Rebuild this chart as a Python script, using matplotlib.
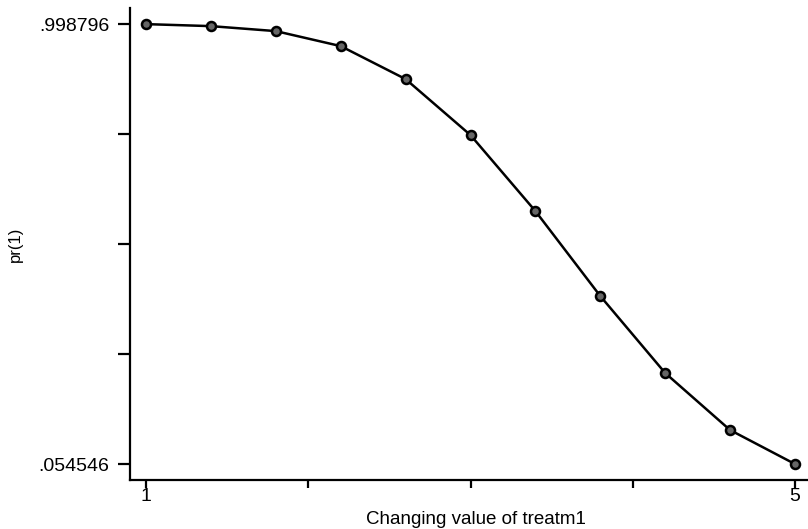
import numpy as np
import matplotlib.pyplot as plt

plt.rcParams['font.family'] = ['Liberation Sans', 'DejaVu Sans']

# values
treat = [1.0, 1.4, 1.8, 2.2, 2.6, 3.0, 3.4, 3.8, 4.2, 4.6, 5.0]
pr1 = [0.998796, 0.9945, 0.9838, 0.9516, 0.8808, 0.7606,
       0.5975, 0.4151, 0.2499, 0.1275, 0.054546]
ymin, ymax = 0.054546, 0.998796

fig = plt.figure(figsize=(8.08, 5.29), dpi=100)
ax = fig.add_axes([0.1609, 0.0926, 0.839, 0.892])

ax.plot(treat, pr1, color='black', lw=1.8, marker='o', ms=6.5,
        mfc='#666666', mec='black', mew=1.8)

ax.set_xlim(0.901, 5.08)
ax.set_ylim(0.0202, 1.0331)
ax.spines['top'].set_visible(False)
ax.spines['right'].set_visible(False)
ax.spines['left'].set_linewidth(1.6)
ax.spines['bottom'].set_linewidth(1.6)

ax.set_xticks([1, 2, 3, 4, 5])
ax.set_xticklabels(['1', '', '', '', '5'])
yt = np.linspace(ymin, ymax, 5)
ax.set_yticks(yt)
ax.set_yticklabels(['.054546', '', '', '', '.998796'])
ax.tick_params(axis='x', direction='out', length=6, width=1.6, labelsize=14, pad=0)
ax.tick_params(axis='y', direction='out', length=9, width=1.6, labelsize=14, pad=6)

ax.set_xlabel('Changing value of treatm1', fontsize=13.5)
ax.xaxis.set_label_coords(0.51, -0.066)
ax.set_ylabel('pr(1)', fontsize=12)
ax.yaxis.set_label_coords(-0.158, 0.5)

fig.savefig('out.png', dpi=100)
